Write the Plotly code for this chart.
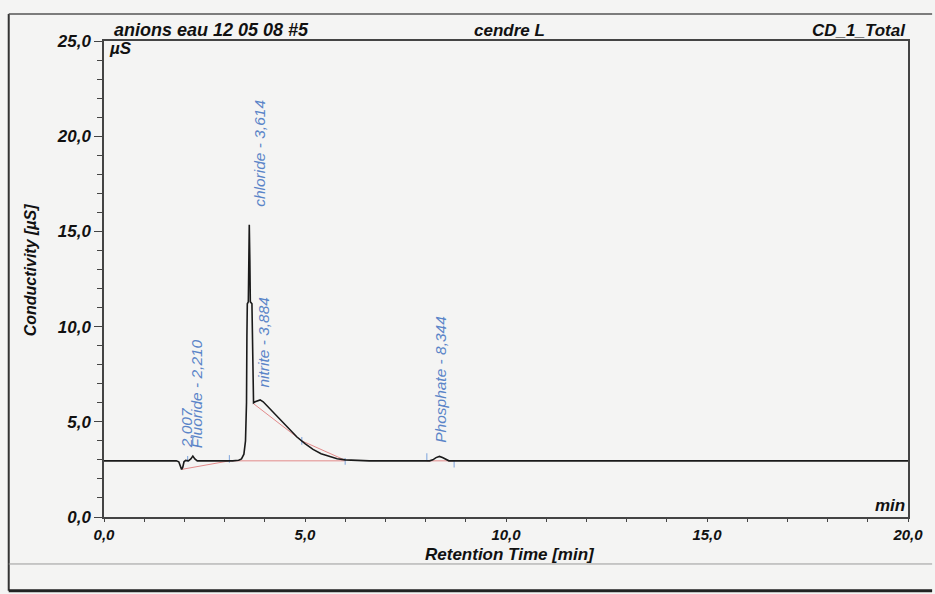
import plotly.graph_objects as go

# Chromatogram trace: retention time [min] and conductivity [µS]
time_min = [0.0, 1.80, 1.86, 1.90, 1.93, 1.96, 1.99, 2.03, 2.10, 2.16, 2.21, 2.26, 2.32,
            3.20, 3.35, 3.42, 3.48, 3.52, 3.545, 3.555, 3.565, 3.59, 3.600, 3.614, 3.628,
            3.64, 3.68, 3.695, 3.705, 3.72, 3.76, 3.82, 3.884, 3.96, 4.05, 4.2, 4.4, 4.6,
            4.8, 5.0, 5.2, 5.4, 5.6, 5.8, 6.0, 6.3, 6.6, 8.10, 8.18, 8.26, 8.344, 8.42,
            8.50, 8.58, 20.0]
conductivity = [2.95, 2.95, 2.90, 2.60, 2.50, 2.62, 2.90, 2.97, 2.95, 3.05, 3.20, 3.05, 2.95,
                2.95, 2.98, 3.05, 3.30, 4.00, 6.00, 9.50, 11.2, 11.3, 13.5, 15.35, 13.5,
                11.3, 11.2, 9.0, 6.5, 6.0, 6.05, 6.12, 6.15, 6.05, 5.85, 5.5, 5.05, 4.6,
                4.2, 3.85, 3.55, 3.32, 3.17, 3.06, 3.0, 2.96, 2.95, 2.95, 3.0, 3.12, 3.18, 3.12,
                3.02, 2.95, 2.95]

# Integration baselines (None separates segments)
base_t = [1.93, 3.12, None, 3.12, 6.0, None, 3.72, 4.92, 6.0, None, 8.03, 8.71]
base_y = [2.50, 2.95, None, 2.95, 2.95, None, 5.95, 4.00, 2.98, None, 2.95, 2.95]

# Peak boundary markers: time, lower and upper conductivity
mark_t = [2.08, 3.12, 4.92, 6.0, 8.03, 8.71]
mark_lo = [2.90, 2.85, 3.80, 2.75, 2.95, 2.60]
mark_hi = [3.20, 3.25, 4.20, 3.10, 3.35, 2.95]

# Peak annotations
peak_labels = ["2,007", "Fluoride - 2,210", "chloride - 3,614", "nitrite - 3,884", "Phosphate - 8,344"]
peak_label_x = [2.05, 2.30, 3.85, 3.97, 8.35]
peak_label_y = [3.5, 3.5, 16.2, 6.7, 3.8]

x_ticks = [0, 5, 10, 15, 20]
y_ticks = [0, 5, 10, 15, 20, 25]

FONT = "Liberation Sans"
BLUE = "#5a84c8"

fig = go.Figure()

fig.add_trace(go.Scatter(x=base_t, y=base_y, mode="lines",
                         line=dict(color="#e28a8a", width=1), hoverinfo="skip"))

mx, my = [], []
for t, lo, hi in zip(mark_t, mark_lo, mark_hi):
    mx += [t, t, None]
    my += [lo, hi, None]
fig.add_trace(go.Scatter(x=mx, y=my, mode="lines",
                         line=dict(color="#8fb0e0", width=1.2), hoverinfo="skip"))

fig.add_trace(go.Scatter(x=time_min, y=conductivity, mode="lines",
                         line=dict(color="#1a1a1a", width=1.6)))

annotations = []
for txt, x, y in zip(peak_labels, peak_label_x, peak_label_y):
    annotations.append(dict(x=x, y=y, xref="x", yref="y", text=txt, showarrow=False,
                            textangle=-90, xanchor="center", yanchor="bottom",
                            font=dict(family=FONT, size=15.5, color=BLUE, style="italic")))

hdr = dict(family=FONT, size=17, color="#111", weight="bold", style="italic")
annotations += [
    dict(x=0.0099, y=1.023, xref="paper", yref="paper", text="anions eau 12 05 08 #5",
         showarrow=False, xanchor="left", yanchor="middle",
         font=dict(family=FONT, size=18, color="#111", weight="bold", style="italic")),
    dict(x=0.504, y=1.023, xref="paper", yref="paper", text="cendre L",
         showarrow=False, xanchor="center", yanchor="middle", font=hdr),
    dict(x=1.0, y=1.023, xref="paper", yref="paper", text="CD_1_Total",
         showarrow=False, xanchor="right", yanchor="middle", font=hdr),
    dict(x=0.004, y=0.985, xref="paper", yref="paper", text="µS",
         showarrow=False, xanchor="left", yanchor="middle", font=hdr),
    dict(x=0.999, y=0.0, xref="paper", yref="paper", text="min",
         showarrow=False, xanchor="right", yanchor="bottom", font=hdr),
    dict(x=0.505, y=-0.079, xref="paper", yref="paper", text="Retention Time [min]",
         showarrow=False, xanchor="center", yanchor="middle", font=hdr),
    dict(x=-0.091, y=0.52, xref="paper", yref="paper", text="Conductivity [µS]",
         showarrow=False, textangle=-90, xanchor="center", yanchor="middle",
         font=dict(family=FONT, size=16, color="#111", weight="bold", style="italic")),
]

shapes = [
    # page frame
    dict(type="line", xref="paper", yref="paper", x0=-0.1185, x1=-0.1185, y0=-0.155, y1=1.0567,
         line=dict(color="#333", width=2)),
    dict(type="line", xref="paper", yref="paper", x0=-0.1185, x1=1.03, y0=1.0567, y1=1.0567,
         line=dict(color="#555", width=1.5)),
    dict(type="line", xref="paper", yref="paper", x0=-0.1185, x1=1.03, y0=-0.155, y1=-0.155,
         line=dict(color="#222", width=3)),
    dict(type="line", xref="paper", yref="paper", x0=-0.1185, x1=1.03, y0=-0.0987, y1=-0.0987,
         line=dict(color="#999", width=1)),
]

xtickfont = dict(family=FONT, size=15, color="#111", weight="bold", style="italic")
ytickfont = dict(family=FONT, size=17, color="#111", weight="bold", style="italic")

fig.update_layout(
    width=935, height=594,
    margin=dict(l=104, r=21, t=41, b=77),
    paper_bgcolor="#f4f4f3", plot_bgcolor="#f4f4f3",
    showlegend=False,
    separators=", ",
    annotations=annotations,
    shapes=shapes,
    xaxis=dict(range=[0, 20], tickvals=x_ticks, tickformat=".1f", ticks="outside",
               ticklen=3, tickwidth=1.2, tickcolor="#444",
               minor=dict(dtick=1, ticks="outside", ticklen=3, tickcolor="#444"),
               showline=True, linecolor="#444", linewidth=1.5, mirror=True,
               showgrid=False, zeroline=False, tickfont=xtickfont),
    yaxis=dict(range=[0, 25], tickvals=y_ticks, tickformat=".1f", ticks="outside",
               ticklen=8, tickwidth=1.2, tickcolor="#444",
               minor=dict(dtick=1, ticks="outside", ticklen=5, tickcolor="#444"),
               showline=True, linecolor="#444", linewidth=1.5, mirror=True,
               showgrid=False, zeroline=False, tickfont=ytickfont),
)

fig.write_html("out.html")
